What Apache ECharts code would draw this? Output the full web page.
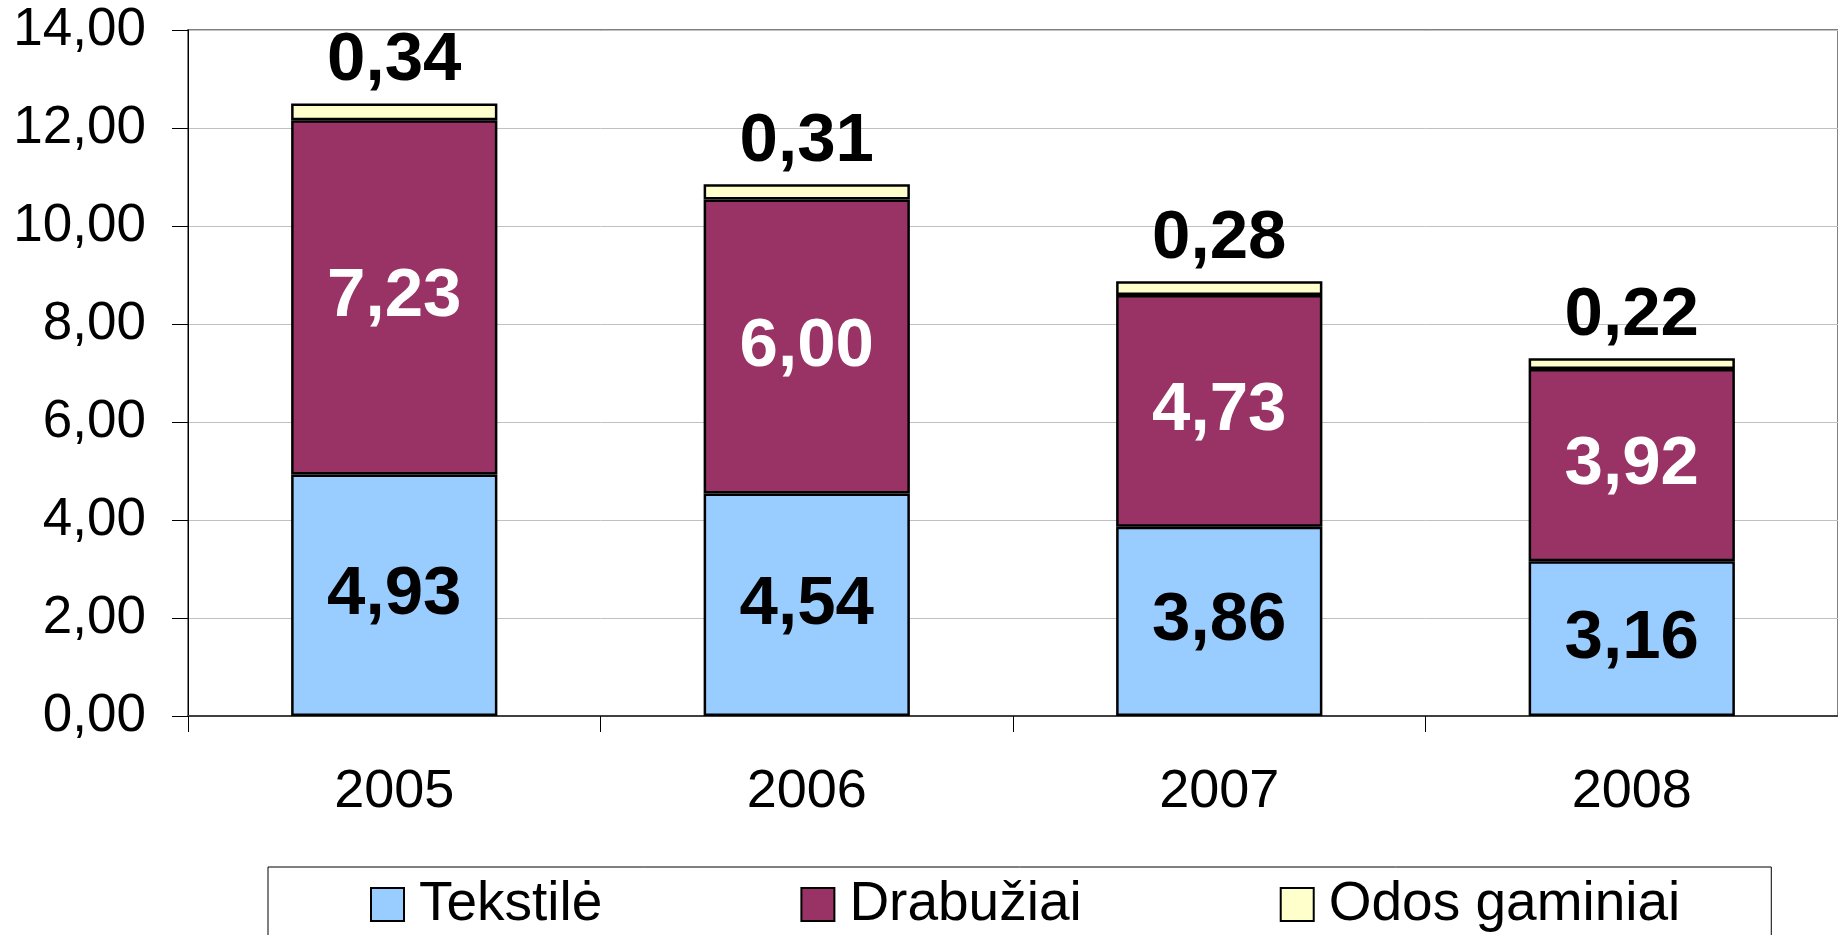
<!DOCTYPE html>
<html><head><meta charset="utf-8">
<script src="https://cdn.jsdelivr.net/npm/echarts@6/dist/echarts.min.js"></script>
<style>html,body{margin:0;padding:0;background:#fff}#c{width:1838px;height:935px}</style>
</head><body><div id="c"></div>
<script>
const categories = ['2005', '2006', '2007', '2008'];
const tekstile = [4.93, 4.54, 3.86, 3.16];
const drabuziai = [7.23, 6.00, 4.73, 3.92];
const odos = [0.34, 0.31, 0.28, 0.22];
const seriesNames = ['Tekstilė', 'Drabužiai', 'Odos gaminiai'];
const yTicks = { min: 0, max: 14, interval: 2 };

const FONT = '"Liberation Sans", Arial, sans-serif';
const fmt = v => Number(v).toFixed(2).replace('.', ',');

const chart = echarts.init(document.getElementById('c'), null, { renderer: 'canvas' });
const labelBase = { show: true, fontFamily: FONT, fontWeight: 'bold', fontSize: 69, formatter: p => fmt(p.value) };
chart.setOption({
  animation: false,
  backgroundColor: '#fff',
  grid: { left: 188, top: 30, right: 0, bottom: 219, show: true, borderColor: '#808080', borderWidth: 2 },
  legend: {
    data: seriesNames,
    left: 268, top: 867,
    padding: [10, 91, 40, 102],
    itemGap: 198,
    itemWidth: 33, itemHeight: 33,
    icon: 'rect',
    borderColor: '#000', borderWidth: 1,
    textStyle: { fontFamily: FONT, fontSize: 55, color: '#000', padding: [0, 0, 0, 10] },
    itemStyle: { borderColor: '#000', borderWidth: 2 }
  },
  xAxis: {
    type: 'category', data: categories,
    axisLine: { lineStyle: { color: '#404040', width: 2 } },
    axisTick: { show: true, length: 16, lineStyle: { color: '#000', width: 1 } },
    axisLabel: { fontFamily: FONT, fontSize: 54, color: '#000', margin: 49 }
  },
  yAxis: {
    type: 'value', min: yTicks.min, max: yTicks.max, interval: yTicks.interval,
    axisLine: { show: true, lineStyle: { color: '#000', width: 1 } },
    axisTick: { show: true, length: 16, lineStyle: { color: '#000' } },
    axisLabel: { fontFamily: FONT, fontSize: 53, color: '#000', margin: 42, formatter: fmt },
    splitLine: { lineStyle: { color: '#c0c0c0', width: 1 } }
  },
  series: [
    { name: seriesNames[0], type: 'bar', stack: 's', data: tekstile, barWidth: '50%',
      itemStyle: { color: '#99CCFF', borderColor: '#000', borderWidth: 2.5 },
      label: Object.assign({}, labelBase, { position: 'inside', color: '#000' }) },
    { name: seriesNames[1], type: 'bar', stack: 's', data: drabuziai, barWidth: '50%',
      itemStyle: { color: '#993366', borderColor: '#000', borderWidth: 2.5 },
      label: Object.assign({}, labelBase, { position: 'inside', color: '#fff' }) },
    { name: seriesNames[2], type: 'bar', stack: 's', data: odos, barWidth: '50%',
      itemStyle: { color: '#FFFFCC', borderColor: '#000', borderWidth: 2.5 },
      label: Object.assign({}, labelBase, { position: 'top', color: '#000', distance: 8 }) }
  ]
});
</script></body></html>
